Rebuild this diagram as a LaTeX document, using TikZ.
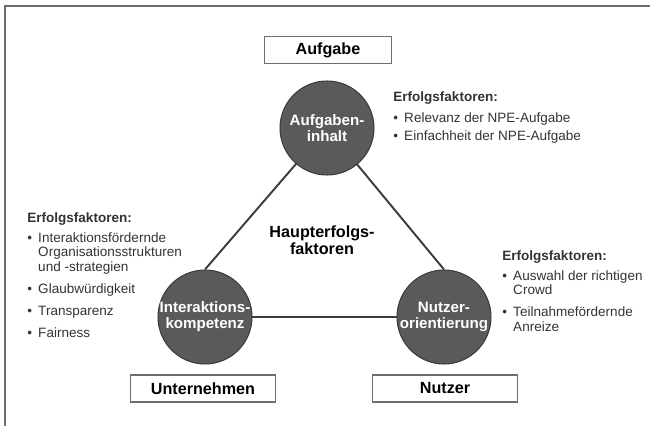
\documentclass[tikz,border=0pt]{standalone}
\usepackage{fontspec}
\setmainfont{Liberation Sans}
\usepackage{xcolor}
\definecolor{discgray}{HTML}{5A5A5A}
\definecolor{linegray}{HTML}{3C3C3C}
\definecolor{framegray}{HTML}{6E6E6E}
\definecolor{textgray}{HTML}{333333}
\usepackage{tikz}
\usetikzlibrary{backgrounds}

\newcommand{\bul}{\makebox[6.2pt][l]{\textbullet}}
\newcommand{\bulind}{\hspace*{6.2pt}}

\begin{document}
\begin{tikzpicture}[x=0.02cm, y=-0.02cm,
  factor/.style={circle, fill=discgray, draw=linegray, line width=0.6pt,
    minimum size=1.88cm, inner sep=0pt},
  factorlabel/.style={text=white, font=\fontsize{8.6}{9.2}\selectfont\bfseries, align=center, inner sep=0pt},
  actor/.style={draw=framegray, line width=0.9pt, fill=white, minimum width=2.9cm,
    minimum height=0.54cm, font=\fontsize{9.2}{9.2}\selectfont\bfseries},
  link/.style={linegray, line width=1.1pt},
  facts/.style={anchor=north west, align=left, text=textgray,
    font=\fontsize{7.7}{8.2}\selectfont, inner sep=0pt}]

  \useasboundingbox (0,0) rectangle (650,426);
  \draw[framegray, line width=1pt] (5,426) -- (5,6) -- (650,6);

  % the three factors
  \node[factor, label={[factorlabel]center:Aufgaben-\\inhalt}] (inhalt) at (327,128) {};
  \node[factor, label={[factorlabel]center:Interaktions-\\kompetenz}] (kompetenz) at (205,317) {};
  \node[factor, label={[factorlabel]center:Nutzer-\\orientierung}] (orientierung) at (444,317) {};

  \begin{scope}[on background layer]
    \draw[link] (inhalt.center) -- (kompetenz.north);
    \draw[link] (inhalt.center) -- (orientierung.north);
    \draw[link] (kompetenz.center) -- (orientierung.center);
  \end{scope}

  \node[font=\fontsize{9.2}{9.4}\selectfont\bfseries, align=center, inner sep=0pt] (haupt) at (322,240)
    {Haupterfolgs-\\faktoren};

  % actors
  \node[actor, minimum width=2.54cm] (aufgabe) at (328,50) {Aufgabe};
  \node[actor] (unternehmen) at (203,388.5) {Unternehmen};
  \node[actor] (nutzer) at (445,388.5) {Nutzer};

  % success factors
  \node[facts] (factsTop) at (393,91) {%
    {\bfseries Erfolgsfaktoren:}\\[3.8pt]
    \bul Relevanz der NPE-Aufgabe\\[2.3pt]
    \bul Einfachheit der NPE-Aufgabe};
  \node[facts] (factsLeft) at (27,212) {%
    {\bfseries Erfolgsfaktoren:}\\[3.4pt]
    \bul Interaktionsfördernde\\
    \bulind Organisationsstrukturen\\
    \bulind und -strategien\\[4.3pt]
    \bul Glaubwürdigkeit\\[4.3pt]
    \bul Transparenz\\[4.3pt]
    \bul Fairness};
  \node[facts] (factsRight) at (502,250) {%
    {\bfseries Erfolgsfaktoren:}\\[3.4pt]
    \bul Auswahl der richtigen\\
    \bulind Crowd\\[4.3pt]
    \bul Teilnahmefördernde\\
    \bulind Anreize};

\end{tikzpicture}
\end{document}
